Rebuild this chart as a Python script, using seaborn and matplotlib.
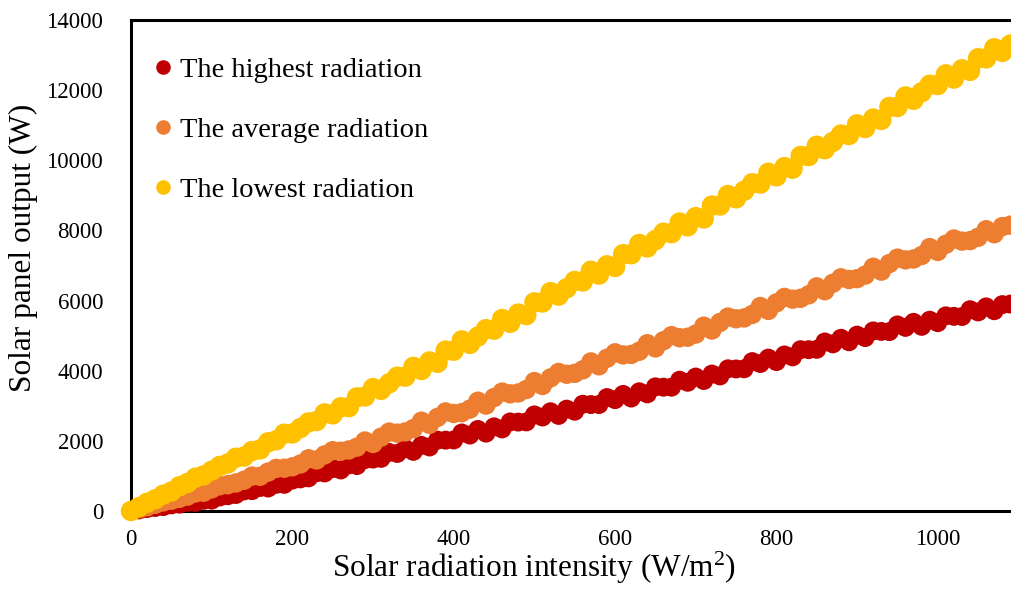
import matplotlib
matplotlib.use("Agg")
import matplotlib.pyplot as plt
import seaborn as sns
import pandas as pd
from matplotlib.lines import Line2D

# Solar radiation intensity (W/m2) sampled for the three days
irradiance = [
    0, 10, 20, 30, 40, 50, 60, 70, 80, 90,
    100, 110, 120, 130, 140, 150, 160, 170, 180, 190,
    200, 210, 220, 230, 240, 250, 260, 270, 280, 290,
    300, 310, 320, 330, 340, 350, 360, 370, 380, 390,
    400, 410, 420, 430, 440, 450, 460, 470, 480, 490,
    500, 510, 520, 530, 540, 550, 560, 570, 580, 590,
    600, 610, 620, 630, 640, 650, 660, 670, 680, 690,
    700, 710, 720, 730, 740, 750, 760, 770, 780, 790,
    800, 810, 820, 830, 840, 850, 860, 870, 880, 890,
    900, 910, 920, 930, 940, 950, 960, 970, 980, 990,
    1000, 1010, 1020, 1030, 1040, 1050, 1060, 1070, 1080, 1090,
]

# Panel output (W) on the day with the highest radiation
output_highest = [
    0, 30, 70, 100, 125, 175, 195, 245, 245, 305,
    310, 400, 435, 470, 570, 580, 670, 655, 760, 760,
    880, 915, 945, 1090, 1085, 1210, 1170, 1315, 1295, 1465,
    1480, 1500, 1670, 1640, 1780, 1700, 1870, 1825, 2020, 2020,
    2025, 2225, 2165, 2325, 2220, 2400, 2340, 2540, 2535, 2540,
    2740, 2680, 2830, 2725, 2905, 2845, 3045, 3035, 3035, 3235,
    3175, 3325, 3220, 3400, 3340, 3540, 3530, 3530, 3730, 3670,
    3820, 3720, 3905, 3850, 4055, 4050, 4055, 4260, 4205, 4360,
    4260, 4450, 4395, 4600, 4600, 4610, 4820, 4765, 4925, 4825,
    5015, 4945, 5135, 5120, 5115, 5305, 5235, 5380, 5265, 5440,
    5370, 5565, 5550, 5545, 5740, 5675, 5820, 5710, 5885, 5900,
]

# Panel output (W) on the day with average radiation
output_average = [
    0, 65, 120, 190, 260, 305, 360, 425, 515, 535,
    630, 720, 750, 800, 875, 995, 990, 1110, 1215, 1220,
    1260, 1340, 1490, 1455, 1600, 1720, 1705, 1740, 1820, 1995,
    1925, 2105, 2250, 2220, 2255, 2350, 2560, 2470, 2670, 2825,
    2780, 2805, 2905, 3130, 3020, 3235, 3390, 3340, 3365, 3465,
    3690, 3580, 3795, 3950, 3900, 3925, 4025, 4250, 4140, 4355,
    4510, 4450, 4465, 4555, 4770, 4650, 4855, 5000, 4940, 4955,
    5045, 5270, 5160, 5375, 5530, 5480, 5505, 5605, 5830, 5720,
    5935, 6090, 6040, 6065, 6165, 6390, 6280, 6495, 6650, 6600,
    6625, 6725, 6950, 6840, 7055, 7210, 7160, 7185, 7285, 7510,
    7400, 7605, 7755, 7695, 7710, 7805, 8020, 7905, 8110, 8150,
]

# Panel output (W) on the day with the lowest radiation
output_lowest = [
    0, 115, 235, 335, 465, 555, 705, 800, 950, 1015,
    1150, 1285, 1355, 1520, 1550, 1710, 1755, 1960, 2015, 2205,
    2210, 2365, 2525, 2565, 2785, 2755, 2960, 2960, 3240, 3265,
    3505, 3455, 3640, 3830, 3830, 4110, 4020, 4265, 4225, 4575,
    4570, 4865, 4765, 4975, 5185, 5170, 5475, 5365, 5630, 5585,
    5950, 5945, 6240, 6140, 6350, 6560, 6545, 6850, 6740, 7005,
    6960, 7325, 7320, 7615, 7515, 7725, 7935, 7920, 8225, 8115,
    8380, 8340, 8710, 8710, 9010, 8915, 9130, 9345, 9335, 9645,
    9540, 9805, 9760, 10125, 10120, 10415, 10315, 10525, 10735, 10720,
    11025, 10920, 11190, 11150, 11520, 11520, 11820, 11725, 11940, 12155,
    12145, 12450, 12330, 12595, 12550, 12910, 12905, 13195, 13090, 13300,
]

series_names = ["The highest radiation", "The average radiation", "The lowest radiation"]
series_colors = ["#C00000", "#ED7D31", "#FFC000"]
marker_sizes = [185, 195, 215]
x_ticks = [0, 200, 400, 600, 800, 1000]
y_ticks = [0, 2000, 4000, 6000, 8000, 10000, 12000, 14000]

df = pd.DataFrame({
    "irradiance": irradiance * 3,
    "output": output_highest + output_average + output_lowest,
    "day": [series_names[0]] * len(irradiance)
    + [series_names[1]] * len(irradiance)
    + [series_names[2]] * len(irradiance),
})

sns.set_theme(style="white")
plt.rcParams["font.family"] = ["Liberation Serif", "DejaVu Serif"]
plt.rcParams["mathtext.fontset"] = "custom"
plt.rcParams["mathtext.rm"] = "Liberation Serif"
plt.rcParams["mathtext.default"] = "regular"
plt.rcParams["text.color"] = "black"
plt.rcParams["axes.labelcolor"] = "black"

fig = plt.figure(figsize=(10.12, 5.91), dpi=100)
ax = fig.add_axes([131 / 1012, 80 / 591, 881 / 1012, 491 / 591])

for name, color, size in zip(series_names, series_colors, marker_sizes):
    sub = df[df["day"] == name]
    sns.scatterplot(data=sub, x="irradiance", y="output", ax=ax, color=color,
                    s=size, edgecolor="none", linewidth=0, clip_on=False,
                    legend=False, zorder=3)

ax.set_xlim(0, 1092)
ax.set_ylim(0, 14000)
ax.set_xticks(x_ticks)
ax.set_yticks(y_ticks)
ax.tick_params(axis="both", length=0, labelsize=16.5, colors="black")
ax.tick_params(axis="x", pad=13)
ax.tick_params(axis="y", pad=20)

ax.set_xlabel("Solar radiation intensity (W/m$^{2}$)", fontsize=22.5)
ax.set_ylabel("Solar panel output (W)", fontsize=22.5)
ax.xaxis.set_label_coords(0.457, -0.080)
ax.yaxis.set_label_coords(-0.105, 0.536)

for side in ["left", "bottom", "top"]:
    ax.spines[side].set_visible(True)
    ax.spines[side].set_color("black")
    ax.spines[side].set_linewidth(2.2)
ax.spines["right"].set_visible(False)

handles = [Line2D([0], [0], marker="o", linestyle="none", markersize=10.5,
                  markerfacecolor=c, markeredgecolor="none") for c in series_colors]
ax.legend(handles, series_names, loc="upper left", bbox_to_anchor=(-0.002, 0.965),
          frameon=False, fontsize=20.5, handletextpad=0.1, labelspacing=1.2,
          handlelength=1.0, borderaxespad=0.3)

fig.savefig("out.png", dpi=100)
